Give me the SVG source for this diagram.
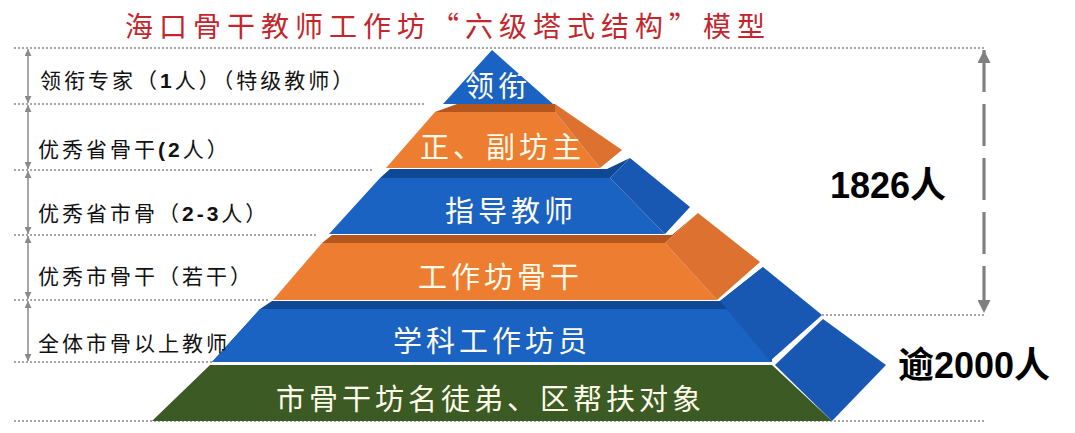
<svg xmlns="http://www.w3.org/2000/svg" width="1075" height="433" viewBox="0 0 1075 433">
<style>
.title{font-family:"Noto Sans CJK SC","Liberation Sans",sans-serif;font-size:28px;fill:#c2272d;letter-spacing:6px}
.lbl{font-family:"Liberation Sans","Noto Sans CJK SC",sans-serif;font-size:21px;fill:#111;letter-spacing:3px}
.lbl .b{font-weight:bold}
.lay{font-family:"Noto Sans CJK SC",sans-serif;font-size:29px;fill:#fffbea;letter-spacing:4px}
.big{font-family:"Liberation Sans","Noto Sans CJK SC",sans-serif;font-size:36px;font-weight:bold;fill:#000}
.dot{stroke:#8a8a8a;stroke-width:1.6;stroke-dasharray:2 2;fill:none}
.wdot{stroke:#ffffff;stroke-width:1.6;stroke-dasharray:2 2;fill:none}
.arr{stroke:#8a8a8a;stroke-width:1.5;fill:none;marker-start:url(#ah);marker-end:url(#ah)}
.arrb{stroke:#808080;stroke-width:3.2;stroke-dasharray:42 12;fill:none;marker-start:url(#ahb);marker-end:url(#ahb)}
.bf{fill:#1a63c3}.bs{fill:#1858b2}.bb{fill:#0f4894}
.of{fill:#ed7d31}.os{fill:#dc7130}.ob{fill:#b5571d}
.gf{fill:#3c5a24}
</style>
<defs>
<marker id="ah" viewBox="0 0 10 10" refX="10" refY="5" markerWidth="8" markerHeight="7" orient="auto-start-reverse" markerUnits="userSpaceOnUse"><path d="M0,0 L10,5 L0,10 z" fill="#8a8a8a"/></marker>
<marker id="ahb" viewBox="0 0 10 10" refX="10" refY="5" markerWidth="13" markerHeight="13" orient="auto-start-reverse" markerUnits="userSpaceOnUse"><path d="M0,0 L10,5 L0,10 z" fill="#808080"/></marker>
</defs>
<rect width="1075" height="433" fill="#ffffff"/>
<text class="title" x="125" y="37">海口骨干教师工作坊“六级塔式结构”模型</text>

<g id="connectors">
<line class="dot" x1="14" y1="48" x2="985" y2="48"/>
<line class="dot" x1="14" y1="104" x2="426" y2="104"/>
<line class="dot" x1="14" y1="170" x2="372" y2="170"/>
<line class="dot" x1="14" y1="235" x2="317" y2="235"/>
<line class="dot" x1="14" y1="300" x2="270" y2="300"/>
<line class="dot" x1="14" y1="362" x2="212" y2="362"/>
<line class="dot" x1="14" y1="421" x2="985" y2="421"/>
<line class="dot" x1="822" y1="315" x2="985" y2="315"/>
<line class="arr" x1="28" y1="49" x2="28" y2="103"/>
<line class="arr" x1="28" y1="105" x2="28" y2="169"/>
<line class="arr" x1="28" y1="171" x2="28" y2="234"/>
<line class="arr" x1="28" y1="236" x2="28" y2="299"/>
<line class="arr" x1="28" y1="301" x2="28" y2="361"/>
<line class="arrb" x1="984" y1="50" x2="984" y2="313"/>
</g>

<g id="layer6">
<polygon class="gf" points="210,365 772,365 832,421 152,421"/>
<polygon class="bs" points="775,365 823,319 886,365 832,421"/>
<text class="lay" x="276" y="410">市骨干坊名徒弟、区帮扶对象</text>
</g>
<g id="layer5">
<polygon class="bb" points="212,362 260,309 272,301 720,301 763,267 772,362"/>
<polygon class="bf" points="260,309 728,309 772,362 212,362"/>
<polygon class="bs" points="720,301 763,267 822,315 770,361"/>
<text class="lay" x="393" y="352">学科工作坊员</text>
</g>
<line class="wdot" x1="212" y1="363" x2="772" y2="363"/>
<g id="layer4">
<polygon class="ob" points="322,243 332,235 672,235 698,213 665,243"/>
<polygon class="of" points="322,243 665,243 717,300 273,300"/>
<polygon class="os" points="665,243 698,213 760,262 717,300"/>
<text class="lay" x="418" y="288">工作坊骨干</text>
</g>
<g id="layer3">
<polygon class="bb" points="380,178 390,169 607,169 630,158 610,178"/>
<polygon class="bf" points="380,178 610,178 665,234 329,234"/>
<polygon class="bs" points="610,178 630,158 690,207 665,234"/>
<text class="lay" x="445" y="222">指导教师</text>
</g>
<g id="layer2">
<polygon class="ob" points="435,112 457,104 555,104 555,112"/>
<polygon class="of" points="435,112 555,112 600,168 386,168"/>
<polygon class="os" points="555,104 622,150 600,168 555,112"/>
<text class="lay" x="420" y="158">正、副坊主</text>
</g>
<g id="layer1">
<polygon class="bf" points="492,50 443,104 553,104"/>
<text class="lay" x="465" y="97" letter-spacing="3">领衔</text>
</g>

<g id="labels">
<text class="lbl" x="40" y="88">领衔专家（<tspan class="b">1</tspan>人）（特级教师）</text>
<text class="lbl" x="38" y="157">优秀省骨干<tspan class="b">(2</tspan>人）</text>
<text class="lbl" x="38" y="221">优秀省市骨（<tspan class="b">2-3</tspan>人）</text>
<text class="lbl" x="38" y="284">优秀市骨干（若干）</text>
<text class="lbl" x="38" y="351">全体市骨以上教师</text>
</g>
<g id="totals">
<text class="big" x="830" y="198">1826人</text>
<text class="big" x="898" y="378">逾2000人</text>
</g>
</svg>
